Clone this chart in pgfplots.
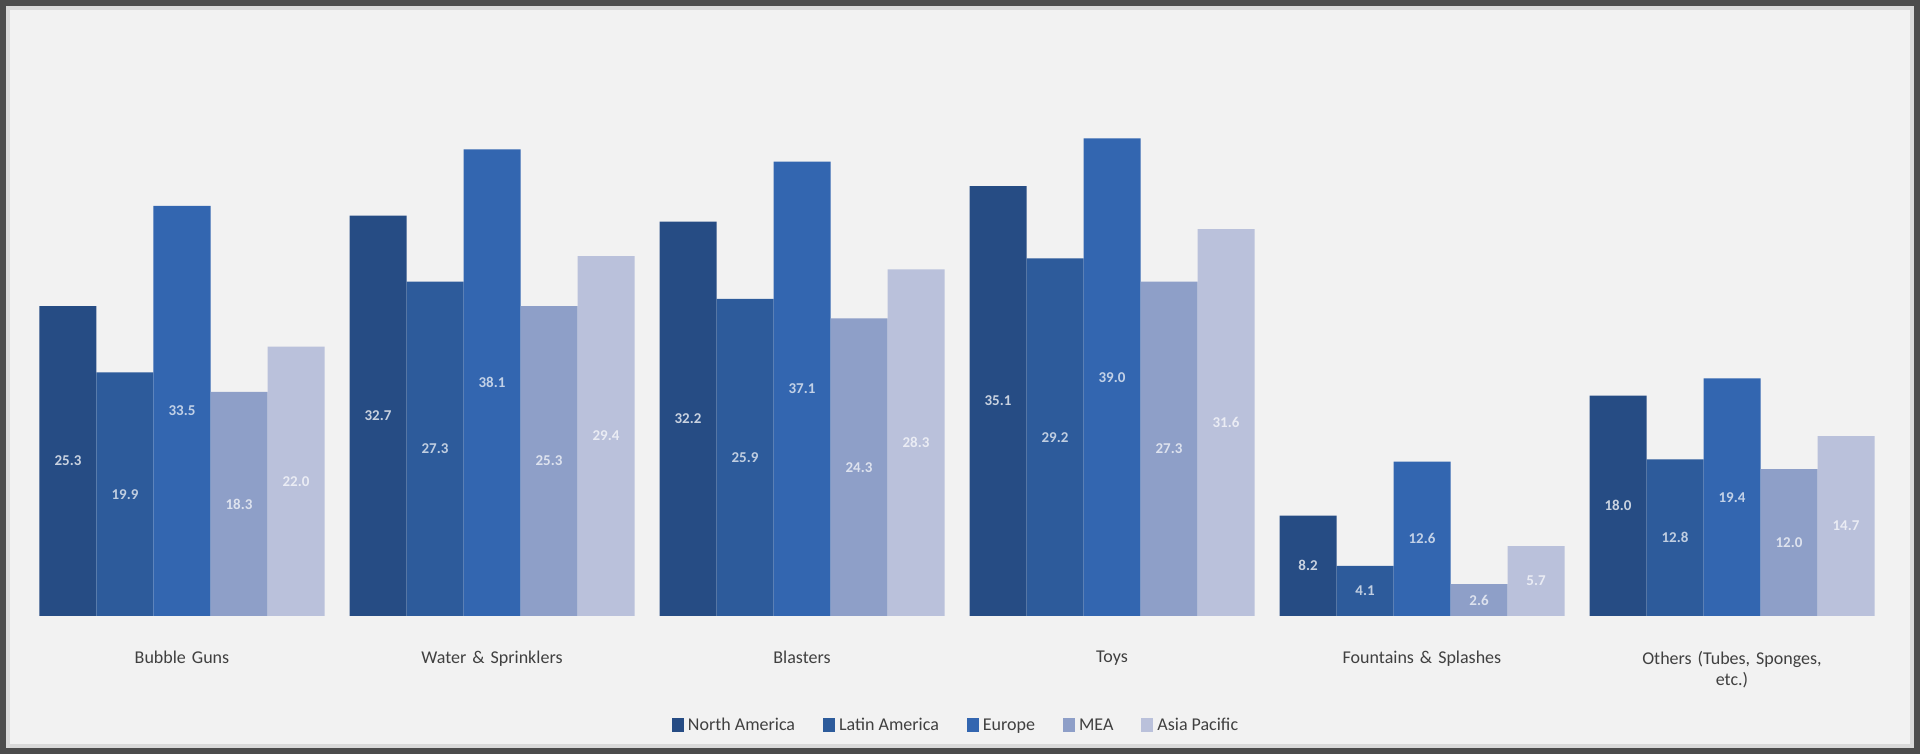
\documentclass[border=0pt]{standalone}
\usepackage{pgfplots}
\pgfplotsset{compat=1.18}
\usepackage{fontspec}
\setmainfont{Carlito}
\definecolor{bg}{HTML}{F2F2F2}
\definecolor{cNA}{HTML}{264C84}
\definecolor{cLA}{HTML}{2D5B9B}
\definecolor{cEU}{HTML}{3366B0}
\definecolor{cME}{HTML}{8E9FC8}
\definecolor{cAP}{HTML}{BAC1DB}
\begin{document}
\begin{tikzpicture}
\useasboundingbox (0,0) rectangle (960pt,377pt);
\fill[bg] (0,0) rectangle (960pt,377pt);
\draw[line width=3pt,gray!60!black] (1.5pt,1.5pt) rectangle (958.5pt,375.5pt);
\draw[line width=2pt,gray!30] (4pt,4pt) rectangle (956pt,373pt);
\begin{axis}[
  at={(13.5pt,69pt)}, anchor=south west,
  scale only axis, width=930pt, height=275.5pt,
  xmin=-0.5, xmax=5.5, ymin=0, ymax=45,
  ybar=0pt, bar width=28.5pt,
  axis line style={draw=none},
  axis x line*=bottom,
  ytick=\empty, hide y axis,
  xtick={0,1,2,3,4,5}, major tick length=0pt,
  xticklabels={Bubble Guns, Water \& Sprinklers, Blasters, Toys, Fountains \& Splashes, {Others (Tubes, Sponges,\\etc.)}},
  xticklabel style={font=\fontsize{9}{10.5}\selectfont, text=black!75, align=center, text width=170pt, yshift=-14pt},
  legend style={at={(0.5,-0.2)}, anchor=center, draw=none, fill=none, legend columns=-1,
    font=\fontsize{9}{10.5}\selectfont, text=black!75,
    /tikz/every even column/.append style={column sep=12pt}},
  legend image code/.code={\fill[#1] (0pt,-3pt) rectangle (6pt,4pt);},
  /pgf/number format/assume math mode=true,
  visualization depends on=y \as \rawy,
  nodes near coords={\pgfmathprintnumber[fixed,fixed zerofill,precision=1]{\pgfplotspointmeta}},
  every node near coord/.append style={anchor=center, yshift=-\rawy*3.0611pt, font=\fontsize{7.5}{8}\selectfont\bfseries},
  every axis plot/.append style={draw=none},
]
\addplot[fill=cNA, every node near coord/.append style={text=white!75!cNA}] coordinates {(0,25.3) (1,32.7) (2,32.2) (3,35.1) (4,8.2) (5,18.0)};
\addplot[fill=cLA, every node near coord/.append style={text=white!70!cLA}] coordinates {(0,19.9) (1,27.3) (2,25.9) (3,29.2) (4,4.1) (5,12.8)};
\addplot[fill=cEU, every node near coord/.append style={text=white!70!cEU}] coordinates {(0,33.5) (1,38.1) (2,37.1) (3,39.0) (4,12.6) (5,19.4)};
\addplot[fill=cME, every node near coord/.append style={text=white!70!cME}] coordinates {(0,18.3) (1,25.3) (2,24.3) (3,27.3) (4,2.6) (5,12.0)};
\addplot[fill=cAP, every node near coord/.append style={text=white!70!cAP}] coordinates {(0,22.0) (1,29.4) (2,28.3) (3,31.6) (4,5.7) (5,14.7)};
\legend{North America, Latin America, Europe, MEA, Asia Pacific}
\end{axis}
\end{tikzpicture}
\end{document}
